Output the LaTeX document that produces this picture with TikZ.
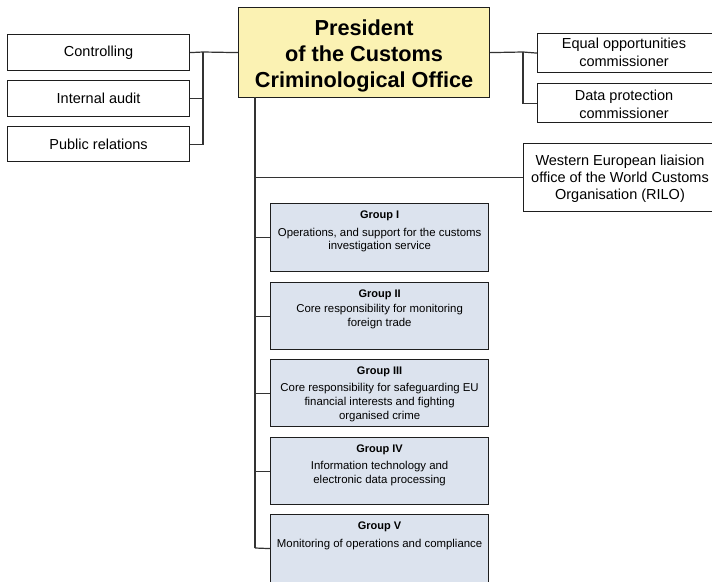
\documentclass[tikz,border=0pt]{standalone}
\usepackage{fontspec}
\setmainfont{Liberation Sans}
\definecolor{presfill}{HTML}{FBF2B3}
\definecolor{grpfill}{HTML}{DCE3EE}
\definecolor{linec}{HTML}{333333}
\definecolor{boxc}{HTML}{1E1E1E}
\begin{document}
\begin{tikzpicture}[x=1pt,y=-1pt,
  box/.style={draw=boxc, line width=1.2pt, fill=white, inner sep=0pt, anchor=north west},
  presbox/.style={box, fill=presfill},
  grpbox/.style={box, fill=grpfill},
  conn/.style={draw=linec, line width=1.2pt},
  smalltxt/.style={font=\fontsize{14.5}{18}\selectfont, align=center, inner sep=0pt},
  rilotxt/.style={font=\fontsize{14.5}{16.8}\selectfont, align=center, inner sep=0pt},
  prestxt/.style={font=\fontsize{21.7}{26}\selectfont\bfseries, align=center, inner sep=0pt},
  gtitle/.style={font=\fontsize{11}{13}\selectfont\bfseries, inner sep=0pt},
  gbody/.style={font=\fontsize{11.4}{14}\selectfont, align=center, inner sep=0pt, anchor=north}]
\useasboundingbox (0,0) rectangle (712,581);
\clip (0,0) rectangle (712,581);

% president
\node[presbox, minimum width=251pt, minimum height=90pt] (pres) at (238,7) {};
\node[prestxt] (prest) at ([yshift=-3pt]pres.center) {President\\of the Customs\\Criminological Office};

% left staff boxes
\node[box, minimum width=182pt, minimum height=36pt] (ctrl) at (7,34) {};
\node[smalltxt] (ctrlt) at (ctrl.center) {Controlling};
\node[box, minimum width=182pt, minimum height=36pt] (audit) at (7,80) {};
\node[smalltxt] (auditt) at (audit.center) {Internal audit};
\node[box, minimum width=182pt, minimum height=35pt] (pr) at (7,126) {};
\node[smalltxt] (prt) at (pr.center) {Public relations};

% right staff boxes
\node[box, minimum width=180pt, minimum height=39pt] (equal) at (537,33) {};
\node[smalltxt] (equalt) at (624,52) {Equal opportunities\\commissioner};
\node[box, minimum width=180pt, minimum height=39pt] (data) at (537,83) {};
\node[smalltxt] (datat) at (624,104) {Data protection\\commissioner};
\node[box, minimum width=194pt, minimum height=68pt] (rilo) at (523,143) {};
\node[rilotxt] (rilot) at (620,179) {Western European liaision\\office of the World Customs\\Organisation (RILO)};

% groups
\node[grpbox, minimum width=218pt, minimum height=68pt] (g1) at (270,203) {};
\node[grpbox, minimum width=218pt, minimum height=67pt] (g2) at (270,282) {};
\node[grpbox, minimum width=218pt, minimum height=67pt] (g3) at (270,359) {};
\node[grpbox, minimum width=218pt, minimum height=67pt] (g4) at (270,437) {};
\node[grpbox, minimum width=218pt, minimum height=68pt] (g5) at (270,514) {};

\node[gtitle] (g1t) at ([yshift=-12.5pt]g1.north) {Group I};
\node[gbody, font=\fontsize{11.4}{12.8}\selectfont] (g1b) at ([yshift=-25pt]g1.north) {Operations, and support for the customs\\investigation service};
\node[gtitle] (g2t) at ([yshift=-12.5pt]g2.north) {Group II};
\node[gbody] (g2b) at ([yshift=-22pt]g2.north) {Core responsibility for monitoring\\foreign trade};
\node[gtitle] (g3t) at ([yshift=-13pt]g3.north) {Group III};
\node[gbody] (g3b) at ([yshift=-24pt]g3.north) {Core responsibility for safeguarding EU\\financial interests and fighting\\organised crime};
\node[gtitle] (g4t) at ([yshift=-13pt]g4.north) {Group IV};
\node[gbody] (g4b) at ([yshift=-24pt]g4.north) {Information technology and\\electronic data processing};
\node[gtitle] (g5t) at ([yshift=-13pt]g5.north) {Group V};
\node[gbody] (g5b) at ([yshift=-25pt]g5.north) {Monitoring of operations and compliance};

% connectors left
\coordinate (busL) at (203,52);
\draw[conn] (pres.west) -- (busL);
\draw[conn] (ctrl.east) -- (busL);
\draw[conn] (audit.east) -| (busL);
\draw[conn] (pr.east) -| (busL);

% connectors right
\coordinate (busR) at (523,52);
\draw[conn] (pres.east) -- (busR) -- (equal.west);
\draw[conn] (data.west) -| (busR);

% trunk
\coordinate (t0) at (255,97);
\coordinate (t1) at (255,548);
\draw[conn] (t0) -- (t1);
\draw[conn] (rilo.west) -- (rilo.west -| t0);
\draw[conn] (g1.west) -- (g1.west -| t0);
\draw[conn] (g2.west) -- (g2.west -| t0);
\draw[conn] (g3.west) -- (g3.west -| t0);
\draw[conn] (g4.west) -- (g4.west -| t0);
\draw[conn] (g5.west) -- (t1);
\end{tikzpicture}
\end{document}
